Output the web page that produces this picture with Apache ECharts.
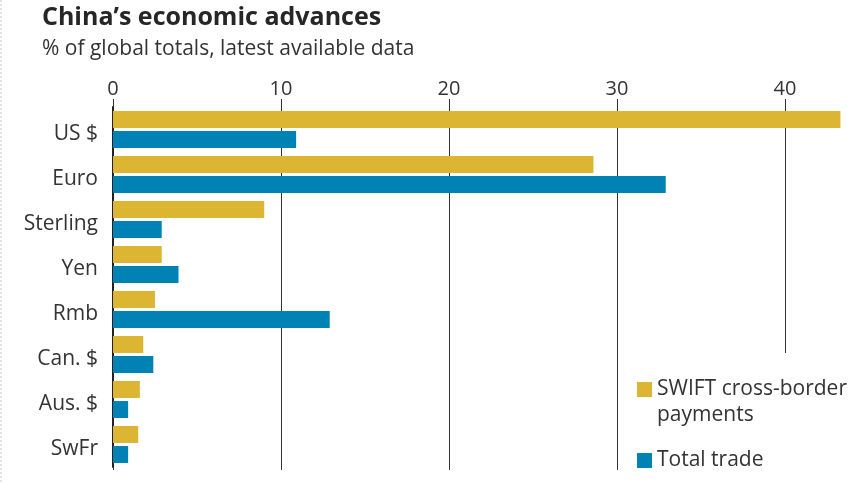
<!DOCTYPE html>
<html>
<head>
<meta charset="utf-8">
<script src="https://cdn.jsdelivr.net/npm/echarts@6/dist/echarts.min.js"></script>
<style>
  html, body { margin: 0; padding: 0; background: #fff; }
  #chart { width: 853px; height: 483px; }
</style>
</head>
<body>
<div id="chart"></div>
<script>
// currencies, top to bottom
var categories = ["US $", "Euro", "Sterling", "Yen", "Rmb", "Can. $", "Aus. $", "SwFr"];
// % of global totals
var swiftPayments = [43.3, 28.6, 9.0, 2.9, 2.5, 1.8, 1.6, 1.5];
var totalTrade = [10.9, 32.9, 2.9, 3.9, 12.9, 2.4, 0.9, 0.9];
var xTicks = [0, 10, 20, 30, 40];
var seriesNames = ["SWIFT cross-border payments", "Total trade"];

var FONT = "Open Sans";
var myChart = echarts.init(document.getElementById("chart"));

myChart.setOption({
  animation: false,
  textStyle: { fontFamily: FONT },
  title: {
    text: "China\u2019s economic advances",
    subtext: "% of global totals, latest available data",
    left: 37,
    top: 0,
    itemGap: 9,
    textStyle: { fontSize: 25, fontWeight: 700, color: "#262626", fontFamily: FONT },
    subtextStyle: { fontSize: 21, color: "#333", fontFamily: FONT }
  },
  graphic: [
    {
      // faint dotted page edge
      type: "line",
      shape: { x1: 1, y1: 0, x2: 1, y2: 483 },
      style: { stroke: "#c8c8c8", lineWidth: 1, lineDash: [2, 2] }
    }
  ],
  legend: {
    orient: "vertical",
    left: 637,
    top: 353,
    padding: [0, 0, 6, 0],
    backgroundColor: "#fff",
    itemWidth: 15,
    itemHeight: 15,
    itemGap: 24,
    selectedMode: false,
    z: 10,
    icon: "rect",
    data: seriesNames,
    textStyle: {
      fontFamily: FONT,
      rich: {
        gap: { fontSize: 21, lineHeight: 26, fontFamily: FONT },
        t: { fontSize: 21, lineHeight: 26, color: "#333", fontFamily: FONT }
      }
    },
    formatter: function (name) {
      if (name === seriesNames[0]) {
        return "{gap| }\n{t|SWIFT cross-border}\n{t|payments}";
      }
      return "{t|" + name + "}";
    }
  },
  grid: {
    left: 113,
    width: 840,
    top: 107,
    bottom: 16,
    containLabel: false,
    outerBoundsMode: "none"
  },
  xAxis: [
    {
      type: "value",
      position: "top",
      min: 0,
      max: 50,
      interval: 10,
      axisLine: { show: false },
      axisTick: { show: true, length: 8, lineStyle: { color: "#333", width: 1 } },
      splitLine: { show: true, lineStyle: { color: "#333", width: 1 } },
      axisLabel: {
        fontSize: 20,
        color: "#333",
        margin: 8,
        showMaxLabel: false,
        formatter: function (v) { return xTicks.indexOf(v) >= 0 ? String(v) : ""; }
      }
    },
    {
      type: "value",
      position: "bottom",
      min: 0,
      max: 50,
      interval: 10,
      axisLine: { show: false },
      axisTick: { show: true, length: 3, lineStyle: { color: "#333", width: 1 } },
      splitLine: { show: false },
      axisLabel: { show: false }
    }
  ],
  yAxis: {
    type: "category",
    inverse: true,
    data: categories,
    axisLine: { show: true, lineStyle: { color: "#222", width: 2 } },
    axisTick: { show: false },
    axisLabel: {
      margin: 15,
      formatter: function (v) { return "{c|" + v + "}"; },
      rich: {
        c: { fontSize: 21, color: "#333", fontFamily: FONT, padding: [10, 0, 0, 0] }
      }
    }
  },
  series: [
    {
      name: seriesNames[0],
      type: "bar",
      xAxisIndex: 0,
      data: swiftPayments,
      barWidth: 17,
      barGap: "18%",
      itemStyle: { color: "#dcb632" }
    },
    {
      name: seriesNames[1],
      type: "bar",
      xAxisIndex: 0,
      data: totalTrade,
      barWidth: 17,
      barGap: "18%",
      itemStyle: { color: "#0083b4" }
    }
  ]
});
</script>
</body>
</html>
